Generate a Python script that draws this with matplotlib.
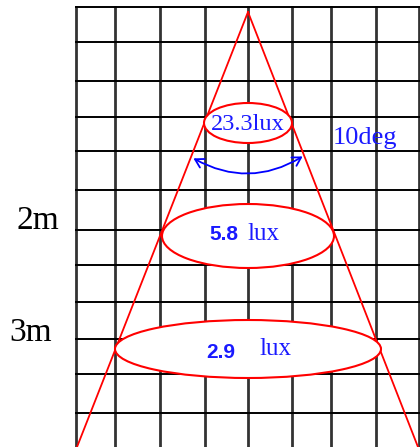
import matplotlib
matplotlib.use("Agg")
import matplotlib.pyplot as plt
from matplotlib.patches import Ellipse, FancyArrowPatch

# data
lux_values = ["23.3", "5.8", "2.9"]
lux_unit = "lux"
distances = ["2m", "3m"]
beam_angle = "10deg"

# layout (pixels, y going down)
W, H = 420, 447
grid_x = [76, 115, 160, 205, 248, 292, 331, 376, 419]
grid_y = [7, 42, 81, 117, 151, 190, 230, 265, 302, 339, 374, 413]
apex = (248, 12)
cone_ends = [(77, 447), (418, 447)]
ellipses = [(248, 123, 88, 40), (248, 236, 172, 64), (248, 349, 266, 58)]

fig = plt.figure(figsize=(W / 100, H / 100), dpi=100)
ax = fig.add_axes([0, 0, 1, 1])
ax.set_xlim(0, W)
ax.set_ylim(H, 0)
ax.axis("off")

# grid
for x in grid_x:
    ax.plot([x, x], [grid_y[0], H], color="#333333", lw=2.0, zorder=1)
for y in grid_y:
    ax.plot([grid_x[0], W], [y, y], color="black", lw=1.4, zorder=1)

# cone
for end in cone_ends:
    ax.plot([apex[0], end[0]], [apex[1], end[1]], color="red", lw=1.3, zorder=2)

# light spots
for cx, cy, w, h in ellipses:
    ax.add_patch(Ellipse((cx, cy), w, h, facecolor="white", edgecolor="red",
                         lw=1.5, zorder=3))

serif = "Liberation Serif"
sans = "Liberation Sans"
blue = "#1a1aff"

ax.text(248, 125, lux_values[0] + lux_unit, color=blue, fontsize=17.5,
        family=serif, ha="center", va="center", zorder=4)
ax.text(238, 235, lux_values[1], color=blue, fontsize=15, family=sans,
        weight="bold", ha="right", va="center", zorder=4)
ax.text(247, 234, lux_unit, color=blue, fontsize=18, family=serif,
        ha="left", va="center", zorder=4)
ax.text(235, 352, lux_values[2], color=blue, fontsize=15, family=sans,
        weight="bold", ha="right", va="center", zorder=4)
ax.text(259, 349, lux_unit, color=blue, fontsize=18, family=serif,
        ha="left", va="center", zorder=4)

ax.text(365, 138, beam_angle, color=blue, fontsize=19, family=serif,
        ha="center", va="center", zorder=4)

ax.text(38, 221, distances[0], color="black", fontsize=24, family=serif,
        ha="center", va="center")
ax.text(31, 333, distances[1], color="black", fontsize=24, family=serif,
        ha="center", va="center")

# beam angle arc
arc = FancyArrowPatch((191, 157), (305, 155), connectionstyle="arc3,rad=0.3",
                      arrowstyle="<->,head_length=6,head_width=3.5",
                      color="blue", lw=1.3, zorder=4)
ax.add_patch(arc)

fig.savefig("out.png", dpi=100)
